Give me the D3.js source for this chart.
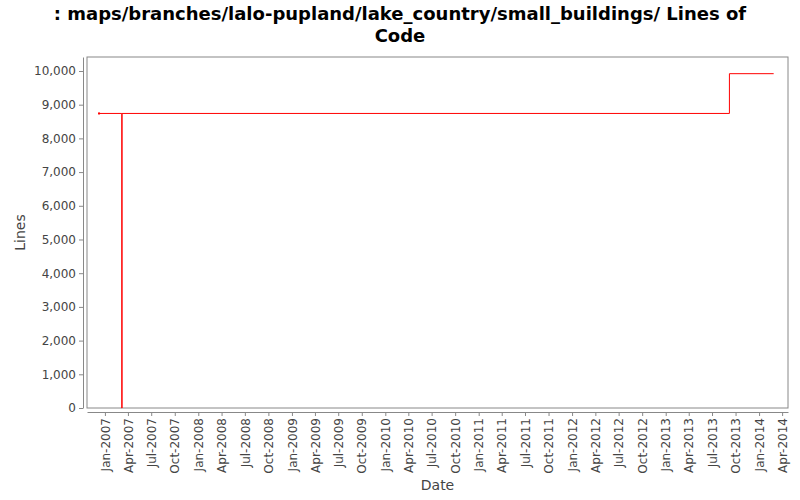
<!DOCTYPE html><html><head><meta charset="utf-8">
<script src="https://cdn.jsdelivr.net/npm/d3@7"></script>
<style>body{margin:0;background:#fff}text{font-family:"DejaVu Sans",sans-serif}</style></head><body>
<svg id="c" width="800" height="500"></svg>
<script>
const titleLines=[": maps/branches/lalo-pupland/lake_country/small_buildings/ Lines of","Code"];
const dates=["2006-12-09","2007-03-08","2007-03-09","2013-09-07","2014-02-27"];
const values=[8740,0,8740,9920,9920];
const yTicks=[0,1000,2000,3000,4000,5000,6000,7000,8000,9000,10000];
const xTickLabels=["Jan-2007","Apr-2007","Jul-2007","Oct-2007","Jan-2008","Apr-2008","Jul-2008","Oct-2008","Jan-2009","Apr-2009","Jul-2009","Oct-2009","Jan-2010","Apr-2010","Jul-2010","Oct-2010","Jan-2011","Apr-2011","Jul-2011","Oct-2011","Jan-2012","Apr-2012","Jul-2012","Oct-2012","Jan-2013","Apr-2013","Jul-2013","Oct-2013","Jan-2014","Apr-2014"];
const svg=d3.select("#c");
const L=87,R=788,T=57,B=408;
const pm=d3.timeParse("%b-%Y"),pd=d3.timeParse("%Y-%m-%d");
const x=d3.scaleTime().domain([pd("2006-10-23"),pd("2014-04-24")]).range([L,R]);
const y=d3.scaleLinear().domain([0,10415]).range([B,T]);
svg.append("rect").attr("x",L).attr("y",T).attr("width",R-L).attr("height",B-T).attr("fill","#fff").attr("stroke","#888");
const ya=svg.append("g").attr("transform",`translate(${L-4},0)`).call(d3.axisLeft(y).tickValues(yTicks).tickFormat(d3.format(",")).tickSize(4).tickSizeOuter(0));
const xa=svg.append("g").attr("transform",`translate(0,${B+4})`).call(d3.axisBottom(x).tickValues(xTickLabels.map(pm)).tickFormat(d3.timeFormat("%b-%Y")).tickSize(4).tickSizeOuter(0));
[ya,xa].forEach(a=>{a.selectAll("path,line").attr("stroke","#888");a.selectAll("text").attr("fill","#444").style("font-size","12px");});
xa.selectAll("text").attr("transform","rotate(-90)").attr("text-anchor","end").attr("dx","-6").attr("dy","0.35em").attr("x",0).attr("y",0);
const data=dates.map((d,i)=>[pd(d),values[i]]);
svg.append("path").datum(data).attr("fill","none").attr("stroke","#f00").attr("stroke-width",1)
 .attr("d",d3.line().x(d=>x(d[0])).y(d=>y(d[1])).curve(d3.curveStepAfter));
svg.append("rect").attr("x",x(data[0][0])-1).attr("y",y(data[0][1])-1).attr("width",2).attr("height",2).attr("fill","#f00");
svg.selectAll(".t").data(titleLines).enter().append("text").attr("x",400).attr("y",(d,i)=>20+i*22).attr("text-anchor","middle").style("font-size","18px").style("font-weight","bold").text(d=>d);
svg.append("text").attr("x",(L+R)/2).attr("y",490).attr("text-anchor","middle").style("font-size","14px").attr("fill","#444").text("Date");
svg.append("text").attr("transform",`translate(25,${(T+B)/2}) rotate(-90)`).attr("text-anchor","middle").style("font-size","14px").attr("fill","#444").text("Lines");
</script></body></html>
